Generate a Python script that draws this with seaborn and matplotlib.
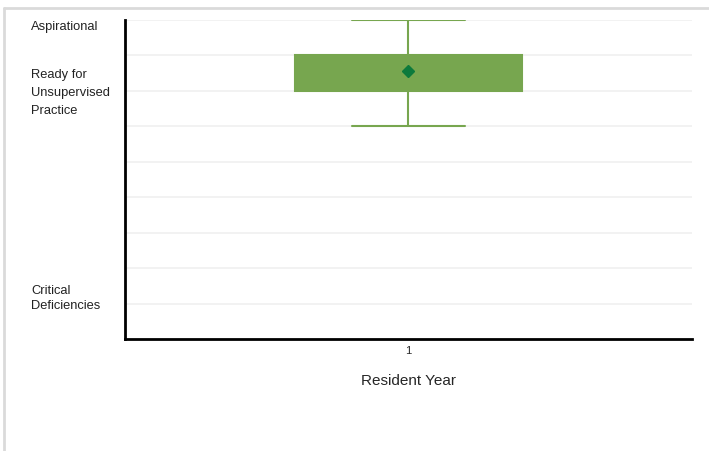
import numpy as np
import pandas as pd
import matplotlib
matplotlib.use("Agg")
import matplotlib.pyplot as plt
import matplotlib.transforms as mtransforms
import seaborn as sns
from matplotlib.lines import Line2D

# milestone scores for the single resident year shown
resident_year = ["1"] * 7
scores = [3.5, 4.0, 4.0, 4.5, 4.5, 4.5, 5.0]

level_ticks = [1.0, 4.0, 5.0]
level_labels = ["Critical\nDeficiencies", "Ready for\nUnsupervised\nPractice", "Aspirational"]
grid_levels = [1.0, 1.5, 2.0, 2.5, 3.0, 3.5, 4.0, 4.5, 5.0]

df = pd.DataFrame({"Resident Year": resident_year, "Score": scores})

box_green = "#77a64f"
mean_green = "#0d7a3c"

sns.set_style("white")
plt.rcParams['font.family'] = ['Liberation Sans', 'DejaVu Sans']

fig = plt.figure(figsize=(7.09, 4.51), dpi=100)
ax = fig.add_axes([0.176, 0.248, 0.800, 0.708])

for g in grid_levels:
    ax.axhline(g, color="#f0f0f0", lw=1.2, zorder=0)

sns.boxplot(data=df, x="Resident Year", y="Score", ax=ax, width=0.4,
            color=box_green, linecolor=box_green, linewidth=1.5,
            showmeans=True, showfliers=False,
            boxprops=dict(facecolor=box_green, edgecolor=box_green),
            medianprops=dict(color=box_green, lw=0),
            meanprops=dict(marker="D", markerfacecolor=mean_green,
                           markeredgecolor=mean_green, markersize=6),
            whiskerprops=dict(color=box_green, lw=1.5),
            capprops=dict(color=box_green, lw=1.5))

ax.set_xlim(-0.5, 0.5)
ax.set_ylim(0.5, 5.0)
ax.set_yticks(level_ticks)
ax.set_yticklabels([])
ax.tick_params(axis="y", length=0)

# level names on the left, nudged like the original
spacings = [1.35, 1.7, 1.2]
shifts_pt = [3.5, -1.5, -5]
base = mtransforms.blended_transform_factory(fig.transFigure, ax.transData)
for y, txt, sp, dy in zip(level_ticks, level_labels, spacings, shifts_pt):
    off = mtransforms.ScaledTranslation(0, dy / 72, fig.dpi_scale_trans)
    ax.text(31 / 709, y, txt, transform=base + off, ha="left", va="center",
            fontsize=9.3, linespacing=sp, color="#222222", clip_on=False)

ax.tick_params(axis="x", length=3, width=1, color="#555555", labelsize=8, pad=2)
ax.set_xlabel("Resident Year", fontsize=11, labelpad=13)
ax.set_ylabel("")

for s in ["top", "right"]:
    ax.spines[s].set_visible(False)
for s in ["left", "bottom"]:
    ax.spines[s].set_color("black")
    ax.spines[s].set_linewidth(2)

# light frame around the panel
fig.add_artist(Line2D([0.005, 0.005], [0, 0.983], transform=fig.transFigure, color="#dadada", lw=2))
fig.add_artist(Line2D([0.005, 1], [0.983, 0.983], transform=fig.transFigure, color="#dadada", lw=2))

fig.savefig("out.png", dpi=100)
